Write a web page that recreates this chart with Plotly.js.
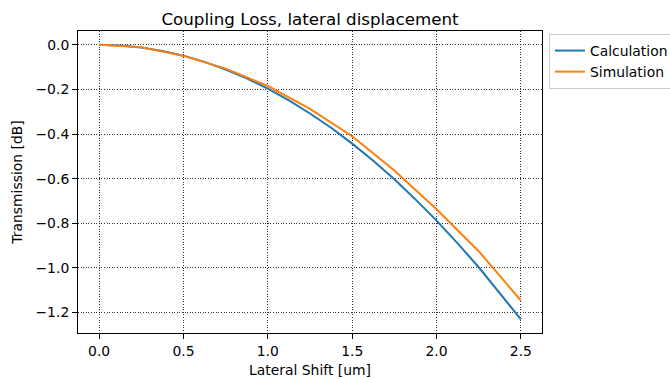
<!DOCTYPE html>
<html>
<head>
<meta charset="utf-8">
<script src="https://cdn.plot.ly/plotly-3.0.1.min.js"></script>
<style>html,body{margin:0;padding:0;background:#fff;}#chart{width:670px;height:379px;}</style>
</head>
<body>
<div id="chart"></div>
<script>
const calcShift = [0, 0.125, 0.25, 0.375, 0.5, 0.625, 0.75, 0.875, 1.0, 1.125, 1.25, 1.375, 1.5, 1.625, 1.75, 1.875, 2.0, 2.125, 2.25, 2.375, 2.5];
const calculation = [0, -0.003, -0.012, -0.028, -0.049, -0.077, -0.111, -0.151, -0.197, -0.249, -0.308, -0.372, -0.443, -0.52, -0.603, -0.693, -0.788, -0.89, -0.997, -1.111, -1.23];
const simShift = [0, 0.25, 0.5, 0.75, 1.0, 1.25, 1.5, 1.75, 2.0, 2.25, 2.5];
const simulation = [0, -0.011, -0.05, -0.107, -0.185, -0.287, -0.41, -0.563, -0.737, -0.925, -1.146];
const seriesNames = ["Calculation", "Simulation"];
const xTicks = [0, 0.5, 1.0, 1.5, 2.0, 2.5];
const yTicks = [0, -0.2, -0.4, -0.6, -0.8, -1.0, -1.2];

const fs = 13.9;
const font = {family: "DejaVu Sans", color: "#000"};
const traces = [
  {x: calcShift, y: calculation, name: seriesNames[0], mode: "lines", line: {color: "#1f77b4", width: 2}},
  {x: simShift, y: simulation, name: seriesNames[1], mode: "lines", line: {color: "#ff7f0e", width: 2}}
];
const axisCommon = {
  showline: true, mirror: true, linecolor: "#000", linewidth: 1,
  ticks: "outside", ticklen: 5, tickwidth: 1, tickcolor: "#000",
  showgrid: true, gridcolor: "#000", griddash: "1px,1.6px", gridwidth: 0.8,
  zeroline: false, tickfont: {family: "DejaVu Sans", size: fs, color: "#000"},
  tickformat: ".1f", automargin: false
};
const layout = {
  width: 670, height: 379,
  margin: {l: 78, r: 128, t: 31, b: 46, autoexpand: false},
  paper_bgcolor: "#fff", plot_bgcolor: "#fff",
  font: font,
  title: {text: "Coupling Loss, lateral displacement", font: {family: "DejaVu Sans", size: 16.7, color: "#000"}, x: 0.5, xref: "paper", xanchor: "center", y: 1, yref: "paper", yanchor: "bottom", pad: {b: 6}},
  xaxis: Object.assign({}, axisCommon, {range: [-0.125, 2.625], tickvals: xTicks,
    title: {text: "Lateral Shift [um]", font: {family: "DejaVu Sans", size: fs, color: "#000"}, standoff: 7}}),
  yaxis: Object.assign({}, axisCommon, {range: [-1.2915, 0.0615], tickvals: yTicks,
    title: {text: "Transmission [dB]", font: {family: "DejaVu Sans", size: fs, color: "#000"}, standoff: 9}}),
  legend: {x: 1.015, xanchor: "left", y: 0.99, yanchor: "top", bgcolor: "#fff", bordercolor: "#ccc", borderwidth: 1,
    font: {family: "DejaVu Sans", size: fs, color: "#000"}, tracegroupgap: 0},
  showlegend: true
};
Plotly.newPlot("chart", traces, layout, {displayModeBar: false, staticPlot: true});
</script>
</body>
</html>
